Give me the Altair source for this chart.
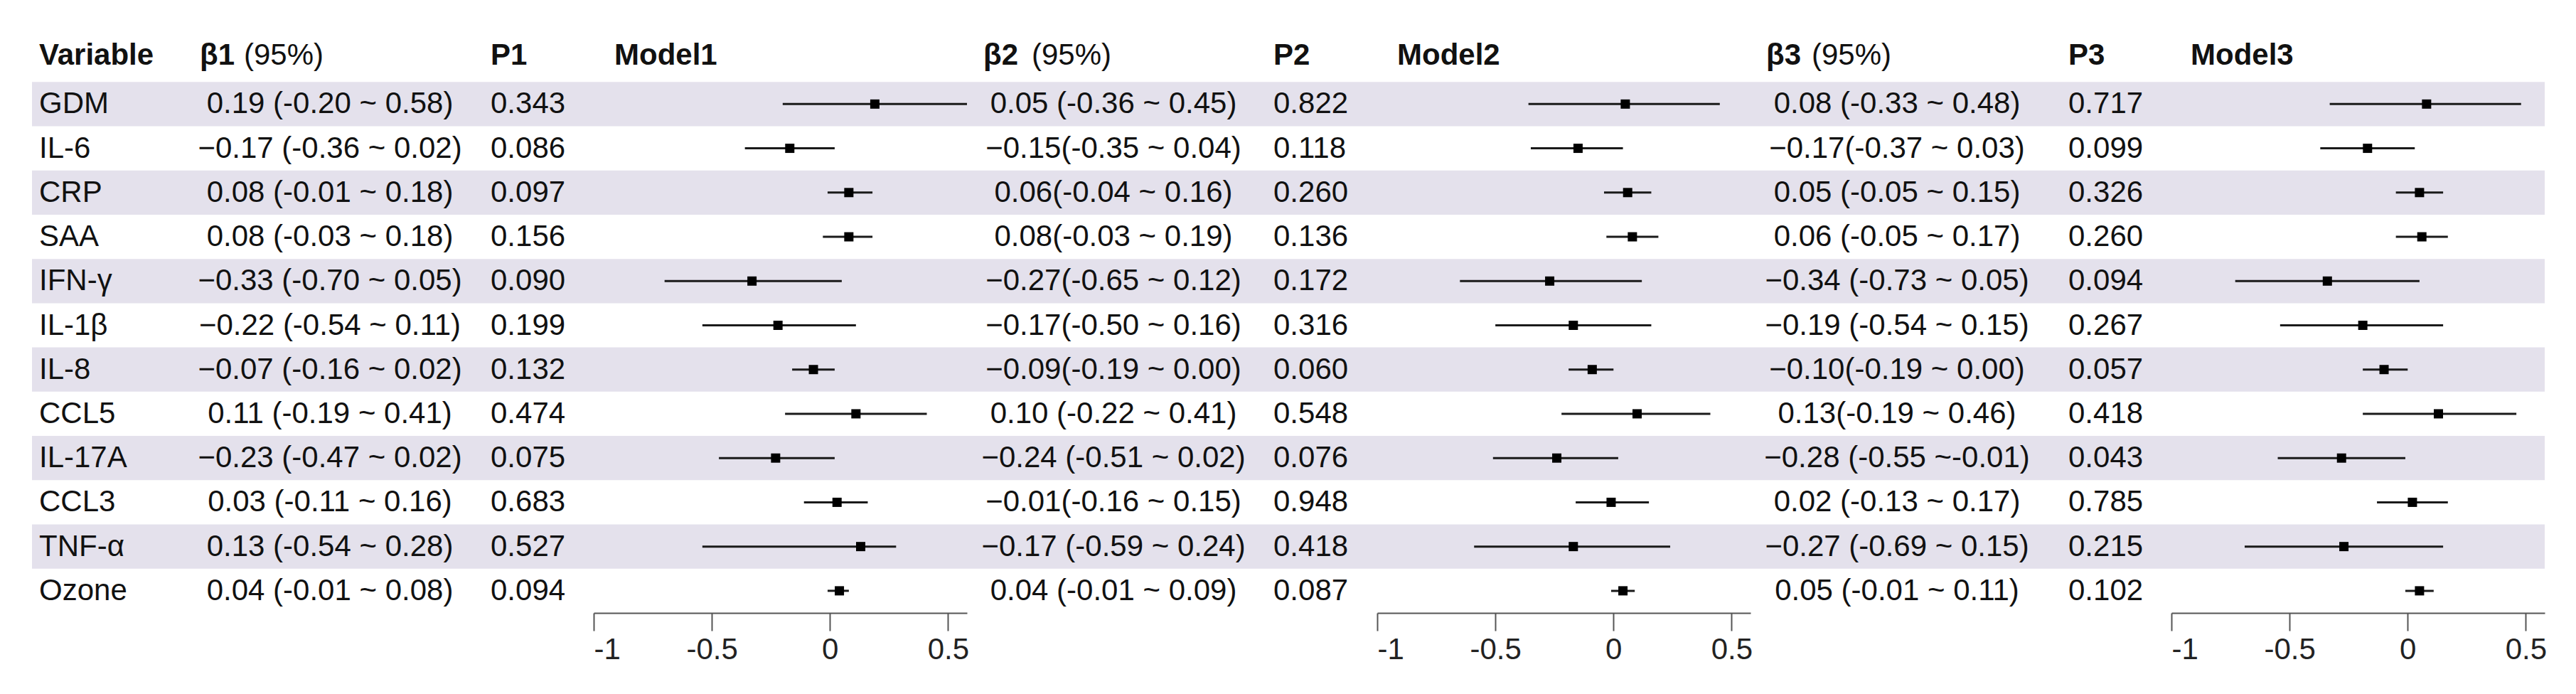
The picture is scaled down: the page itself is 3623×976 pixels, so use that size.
import altair as alt
import pandas as pd

# ---------------- data ----------------
VARIABLES = ["GDM", "IL-6", "CRP", "SAA", "IFN-γ", "IL-1β", "IL-8", "CCL5",
             "IL-17A", "CCL3", "TNF-α", "Ozone"]

M1_EST = [0.19, -0.17, 0.08, 0.08, -0.33, -0.22, -0.07, 0.11, -0.23, 0.03, 0.13, 0.04]
M1_LO = [-0.20, -0.36, -0.01, -0.03, -0.70, -0.54, -0.16, -0.19, -0.47, -0.11, -0.54, -0.01]
M1_HI = [0.58, 0.02, 0.18, 0.18, 0.05, 0.11, 0.02, 0.41, 0.02, 0.16, 0.28, 0.08]
M1_P = ["0.343", "0.086", "0.097", "0.156", "0.090", "0.199", "0.132", "0.474",
        "0.075", "0.683", "0.527", "0.094"]
M1_TXT = ["0.19 (-0.20 ~ 0.58)", "\u22120.17 (-0.36 ~ 0.02)", "0.08 (-0.01 ~ 0.18)",
          "0.08 (-0.03 ~ 0.18)", "\u22120.33 (-0.70 ~ 0.05)", "\u22120.22 (-0.54 ~ 0.11)",
          "\u22120.07 (-0.16 ~ 0.02)", "0.11 (-0.19 ~ 0.41)", "\u22120.23 (-0.47 ~ 0.02)",
          "0.03 (-0.11 ~ 0.16)", "0.13 (-0.54 ~ 0.28)", "0.04 (-0.01 ~ 0.08)"]

M2_EST = [0.05, -0.15, 0.06, 0.08, -0.27, -0.17, -0.09, 0.10, -0.24, -0.01, -0.17, 0.04]
M2_LO = [-0.36, -0.35, -0.04, -0.03, -0.65, -0.50, -0.19, -0.22, -0.51, -0.16, -0.59, -0.01]
M2_HI = [0.45, 0.04, 0.16, 0.19, 0.12, 0.16, 0.00, 0.41, 0.02, 0.15, 0.24, 0.09]
M2_P = ["0.822", "0.118", "0.260", "0.136", "0.172", "0.316", "0.060", "0.548",
        "0.076", "0.948", "0.418", "0.087"]
M2_TXT = ["0.05 (-0.36 ~ 0.45)", "\u22120.15(-0.35 ~ 0.04)", "0.06(-0.04 ~ 0.16)",
          "0.08(-0.03 ~ 0.19)", "\u22120.27(-0.65 ~ 0.12)", "\u22120.17(-0.50 ~ 0.16)",
          "\u22120.09(-0.19 ~ 0.00)", "0.10 (-0.22 ~ 0.41)", "\u22120.24 (-0.51 ~ 0.02)",
          "\u22120.01(-0.16 ~ 0.15)", "\u22120.17 (-0.59 ~ 0.24)", "0.04 (-0.01 ~ 0.09)"]

M3_EST = [0.08, -0.17, 0.05, 0.06, -0.34, -0.19, -0.10, 0.13, -0.28, 0.02, -0.27, 0.05]
M3_LO = [-0.33, -0.37, -0.05, -0.05, -0.73, -0.54, -0.19, -0.19, -0.55, -0.13, -0.69, -0.01]
M3_HI = [0.48, 0.03, 0.15, 0.17, 0.05, 0.15, 0.00, 0.46, -0.01, 0.17, 0.15, 0.11]
M3_P = ["0.717", "0.099", "0.326", "0.260", "0.094", "0.267", "0.057", "0.418",
        "0.043", "0.785", "0.215", "0.102"]
M3_TXT = ["0.08 (-0.33 ~ 0.48)", "\u22120.17(-0.37 ~ 0.03)", "0.05 (-0.05 ~ 0.15)",
          "0.06 (-0.05 ~ 0.17)", "\u22120.34 (-0.73 ~ 0.05)", "\u22120.19 (-0.54 ~ 0.15)",
          "\u22120.10(-0.19 ~ 0.00)", "0.13(-0.19 ~ 0.46)", "\u22120.28 (-0.55 ~-0.01)",
          "0.02 (-0.13 ~ 0.17)", "\u22120.27 (-0.69 ~ 0.15)", "0.05 (-0.01 ~ 0.11)"]

TICK_VALUES = [-1, -0.5, 0, 0.5]
TICK_LABELS = ["-1", "-0.5", "0", "0.5"]
X_DOMAIN = [-1, 0.58]

# ---------------- style ----------------
FONT = "Liberation Sans"
FS = 42
INK = "#111111"
BAND = "#E4E1EC"
H = 809
ROW_DOMAIN = [-0.5, 12.5]

rows = pd.DataFrame({
    "row": list(range(1, len(VARIABLES) + 1)),
    "variable": VARIABLES,
    "shade": [i % 2 == 0 for i in range(len(VARIABLES))],
})
HDR = pd.DataFrame({"row": [0]})


def yenc(field="row"):
    return alt.Y(f"{field}:Q",
                 scale=alt.Scale(domain=ROW_DOMAIN, reverse=True, nice=False, zero=False),
                 axis=None)


def bands(x_start, x_end):
    return (alt.Chart(rows)
            .transform_filter("datum.shade")
            .transform_calculate(y0="datum.row - 0.5", y1="datum.row + 0.5")
            .mark_rect(color=BAND)
            .encode(x=alt.value(x_start), x2=alt.value(x_end),
                    y=yenc("y0"), y2="y1:Q"))


def header(label, x, bold=True):
    return (alt.Chart(HDR)
            .mark_text(font=FONT, fontSize=FS, fontWeight="bold" if bold else "normal",
                       align="left", baseline="middle", dy=-6, color=INK)
            .encode(x=alt.value(x), y=yenc(), text=alt.value(label)))


def col_text(df, field, x, align):
    return (alt.Chart(df)
            .mark_text(font=FONT, fontSize=FS, align=align, baseline="middle", color=INK)
            .encode(x=alt.value(x), y=yenc(), text=f"{field}:N"))


def text_panel(width, band_start, beta_txt, pvals, beta_center, beta_hdr, b_x, pct_x,
               p_hdr, p_x, with_var=False):
    df = rows.copy()
    df["beta"] = beta_txt
    df["p"] = pvals
    layers = [bands(band_start, width)]
    if with_var:
        layers += [header("Variable", 47), col_text(df, "variable", 47, "left")]
    layers += [
        header(beta_hdr, b_x), header("(95%)", pct_x, bold=False),
        col_text(df, "beta", beta_center, "center"),
        header(p_hdr, p_x), col_text(df, "p", p_x, "left"),
    ]
    return alt.layer(*layers).properties(width=width, height=H)


def forest(width, est, lo, hi, title, title_x):
    df = rows.copy()
    df["est"] = est
    df["lo"] = lo
    df["hi"] = hi
    xs = alt.Scale(domain=X_DOMAIN, nice=False, zero=False)
    label_expr = " : ".join(
        f"datum.value == {v} ? '{l}'" for v, l in zip(TICK_VALUES, TICK_LABELS)) + " : ''"
    ax = alt.Axis(values=TICK_VALUES, labelExpr=label_expr, title=None, grid=False)
    rule = (alt.Chart(df).mark_rule(strokeWidth=3, color="#1a1a1a")
            .encode(x=alt.X("lo:Q", scale=xs, axis=ax), x2="hi:Q", y=yenc()))
    sq = (alt.Chart(df).mark_square(size=169, opacity=1, color="#000000")
          .encode(x=alt.X("est:Q", scale=xs), y=yenc()))
    return alt.layer(bands(0, width), rule, sq, header(title, title_x)).properties(
        width=width, height=H)


t1 = text_panel(827, 37, M1_TXT, M1_P, 456, "β1", 273, 335, "P1", 682, with_var=True)
f1 = forest(525, M1_EST, M1_LO, M1_HI, "Model1", 29)
t2 = text_panel(577, 0, M2_TXT, M2_P, 206, "β2", 23, 91, "P2", 431)
f2 = forest(525, M2_EST, M2_LO, M2_HI, "Model2", 28)
t3 = text_panel(592, 0, M3_TXT, M3_P, 206, "β3", 22, 86, "P3", 447)
f3 = forest(525, M3_EST, M3_LO, M3_HI, "Model3", 27)

chart = (alt.hconcat(t1, f1, t2, f2, t3, f3, spacing=0, bounds="flush")
         .resolve_scale(x="independent", y="independent")
         .properties(padding={"left": 0, "top": 45, "right": 0, "bottom": 5},
                     background="white")
         .configure_view(strokeWidth=0)
         .configure_axis(domainColor="#555555", domainWidth=2, tickColor="#555555",
                         tickWidth=2, tickSize=25, labelFont=FONT, labelFontSize=FS,
                         labelColor="#222222", labelPadding=6))

chart.save("out.html", embed_options={"renderer": "svg", "actions": False})
